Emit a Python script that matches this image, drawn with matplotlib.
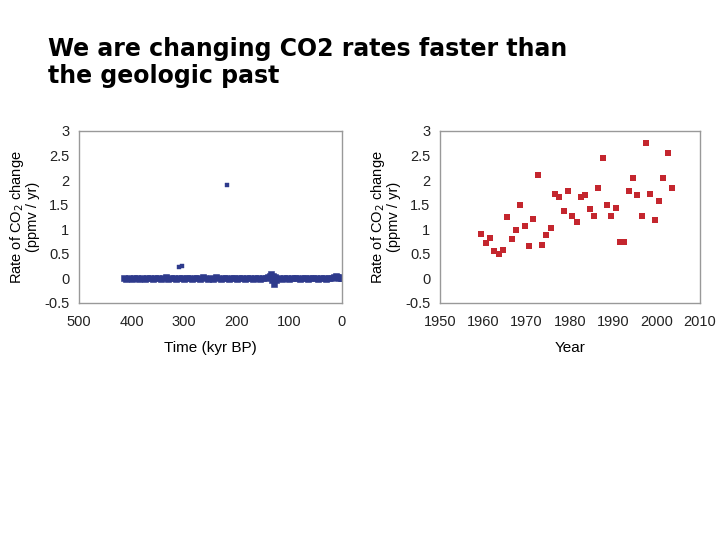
import numpy as np
import matplotlib.pyplot as plt

plt.rcParams['font.family'] = ['Liberation Sans', 'DejaVu Sans']

# ice core record: time (kyr BP) and rate of CO2 change (ppmv/yr)
ice_time = [415, 410, 405, 400, 395, 390, 385, 380, 375, 370, 365, 360,
            355, 350, 345, 340, 335, 330, 325, 320, 315, 310, 305, 300,
            295, 290, 285, 280, 275, 270, 265, 260, 255, 250, 245, 240,
            235, 230, 225, 220, 215, 210, 205, 200, 195, 190, 185, 180,
            175, 170, 165, 160, 155, 150, 145, 140, 137, 135, 133, 131,
            129, 127, 125, 120, 115, 110, 105, 100, 95, 90, 85, 80,
            75, 70, 65, 60, 55, 50, 45, 40, 35, 30, 25, 20,
            15, 12, 10, 8, 5, 2, 0]
ice_rate = [0.00, -0.01, 0.00, -0.01, 0.00, 0.01, -0.01, 0.00, -0.01, 0.00, 0.01, -0.01,
            0.00, 0.01, -0.01, 0.00, 0.02, -0.01, 0.01, 0.00, -0.01, 0.01, 0.00, -0.02,
            0.01, 0.00, -0.01, 0.01, 0.00, -0.01, 0.02, 0.00, -0.01, 0.01, -0.02, 0.02,
            0.00, -0.01, 0.01, 0.00, -0.02, 0.01, 0.00, -0.01, 0.01, 0.00, -0.01, 0.01,
            0.00, -0.01, 0.01, 0.00, -0.01, 0.01, 0.00, 0.02, 0.05, 0.09, -0.04, 0.04,
            -0.11, 0.03, -0.03, 0.01, -0.01, 0.00, 0.01, -0.01, 0.00, 0.01, 0.00, -0.01,
            0.00, 0.01, -0.01, 0.00, 0.01, 0.00, -0.01, 0.00, 0.01, -0.01, 0.00, 0.01,
            0.02, 0.05, 0.03, 0.01, 0.02, 0.00, 0.01]
ice_out_time = [309, 305, 219]
ice_out_rate = [0.23, 0.25, 1.90]

# instrumental record (Mauna Loa)
years = [1959, 1960, 1961, 1962, 1963, 1964, 1965, 1966, 1967, 1968, 1969,
         1970, 1971, 1972, 1973, 1974, 1975, 1976, 1977, 1978, 1979, 1980,
         1981, 1982, 1983, 1984, 1985, 1986, 1987, 1988, 1989, 1990, 1991,
         1992, 1993, 1994, 1995, 1996, 1997, 1998, 1999, 2000, 2001, 2002, 2003]
ml_rate = [0.91, 0.72, 0.83, 0.55, 0.50, 0.57, 1.26, 0.80, 0.99, 1.49, 1.06,
           0.67, 1.20, 2.10, 0.68, 0.88, 1.02, 1.71, 1.65, 1.38, 1.78, 1.27,
           1.14, 1.66, 1.70, 1.42, 1.27, 1.85, 2.46, 1.50, 1.27, 1.44, 0.74,
           0.74, 1.77, 2.04, 1.69, 1.27, 2.75, 1.72, 1.18, 1.58, 2.04, 2.55, 1.83]

fig = plt.figure(figsize=(7.2, 5.4), dpi=100)
fig.text(48 / 720, 1 - 56 / 540, "We are changing CO2 rates faster than",
         fontsize=17, fontweight='bold', family='DejaVu Sans', va='baseline')
fig.text(48 / 720, 1 - 83 / 540, "the geologic past",
         fontsize=17, fontweight='bold', family='DejaVu Sans', va='baseline')

ax1 = fig.add_axes([79 / 720, 1 - 303 / 540, 263 / 720, 172 / 540])
ax2 = fig.add_axes([440 / 720, 1 - 303 / 540, 260 / 720, 172 / 540])

blue = '#2e3a8c'
red = '#c4262e'
ax1.plot(ice_time, ice_rate, 's', color=blue, ms=3.8, mew=0.4)
ax1.plot(ice_out_time, ice_out_rate, 's', color=blue, ms=3.4, mew=0.3)
ax1.set_xlim(500, 0)
ax1.set_xticks([500, 400, 300, 200, 100, 0])
ax1.set_xlabel("Time (kyr BP)", fontsize=11, labelpad=8)

ax2.plot(np.array(years) + 0.5, ml_rate, 's', color=red, ms=3.8, mew=0)
ax2.set_xlim(1950, 2010)
ax2.set_xticks(range(1950, 2011, 10))
ax2.set_xlabel("Year", fontsize=11, labelpad=8)

for ax in (ax1, ax2):
    ax.set_ylim(-0.5, 3)
    ax.set_yticks([-0.5, 0, 0.5, 1, 1.5, 2, 2.5, 3])
    ax.set_yticklabels(['-0.5', '0', '0.5', '1', '1.5', '2', '2.5', '3'])
    ax.tick_params(length=0, labelsize=10.5, labelcolor='#222222')
    ax.tick_params(axis='y', pad=7)
    ax.tick_params(axis='x', pad=9)
    for s in ax.spines.values():
        s.set_color('#999999')
        s.set_linewidth(1)
    ax.set_ylabel("Rate of CO$_2$ change\n(ppmv / yr)", fontsize=10.5,
                  labelpad=3, linespacing=0.95)

fig.savefig('out.png', dpi=100)
